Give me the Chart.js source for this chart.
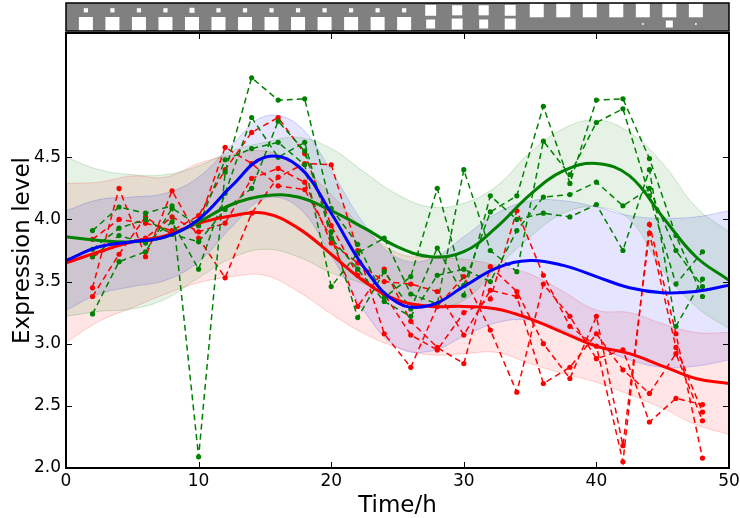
<!DOCTYPE html>
<html>
<head>
<meta charset="utf-8">
<script src="https://cdn.jsdelivr.net/npm/chart.js@4.4.1/dist/chart.umd.min.js"></script>
<style>
  html, body { margin: 0; padding: 0; background: #fff; }
  #wrap { width: 740px; height: 518px; }
</style>
</head>
<body>
<div id="wrap"><canvas id="myChart" width="740" height="518"></canvas></div>
<script>
"use strict";

// smooth fits, sampled every 2.5 h
const fitTimes = [0, 2.5, 5, 7.5, 10, 12.5, 15, 17.5, 20, 22.5, 25, 27.5, 30, 32.5, 35, 37.5, 40, 42.5, 45, 47.5, 50];
const blueFit  = [3.67, 3.78, 3.82, 3.86, 4.00, 4.27, 4.50, 4.43, 4.05, 3.61, 3.33, 3.31, 3.46, 3.61, 3.67, 3.63, 3.54, 3.45, 3.41, 3.42, 3.47];
const greenFit = [3.86, 3.83, 3.82, 3.86, 3.98, 4.12, 4.19, 4.18, 4.07, 3.93, 3.78, 3.70, 3.74, 3.94, 4.20, 4.39, 4.45, 4.35, 4.02, 3.70, 3.51];
const redFit   = [3.65, 3.74, 3.82, 3.87, 3.97, 4.03, 4.05, 3.93, 3.72, 3.50, 3.35, 3.30, 3.30, 3.28, 3.20, 3.09, 2.98, 2.92, 2.82, 2.72, 2.68];

// confidence bands
const blueUpper  = [4.07, 4.16, 4.18, 4.21, 4.34, 4.60, 4.83, 4.76, 4.39, 3.96, 3.69, 3.68, 3.86, 4.05, 4.15, 4.15, 4.10, 4.03, 4.01, 4.02, 4.07];
const blueLower  = [3.27, 3.40, 3.46, 3.51, 3.66, 3.94, 4.17, 4.10, 3.71, 3.26, 2.97, 2.94, 3.06, 3.17, 3.19, 3.11, 2.98, 2.87, 2.81, 2.82, 2.87];
const greenUpper = [4.50, 4.40, 4.36, 4.36, 4.43, 4.55, 4.62, 4.66, 4.57, 4.38, 4.20, 4.10, 4.13, 4.27, 4.54, 4.73, 4.80, 4.70, 4.45, 4.10, 3.90];
const greenLower = [3.22, 3.26, 3.28, 3.36, 3.53, 3.69, 3.76, 3.70, 3.57, 3.48, 3.36, 3.30, 3.35, 3.61, 3.86, 4.05, 4.10, 4.00, 3.59, 3.30, 3.12];
const redUpper   = [4.29, 4.30, 4.35, 4.34, 4.45, 4.52, 4.55, 4.44, 4.20, 3.92, 3.73, 3.69, 3.68, 3.63, 3.56, 3.42, 3.27, 3.25, 3.16, 3.09, 3.09];
const redLower   = [3.01, 3.18, 3.29, 3.40, 3.49, 3.54, 3.55, 3.42, 3.24, 3.08, 2.97, 2.91, 2.92, 2.93, 2.84, 2.76, 2.69, 2.59, 2.48, 2.35, 2.27];

// measured replicates, every 2 h
const sampleTimes = [2, 4, 6, 8, 10, 12, 14, 16, 18, 20, 22, 24, 26, 28, 30, 32, 34, 36, 38, 40, 42, 44, 46, 48];
const greenReps = [
  [3.91, 4.10, 4.05, 4.11, 2.09, 4.38, 5.14, 4.96, 4.97, 4.09, 3.80, 3.37, 3.54, 4.25, 3.47, 4.06, 4.19, 4.91, 4.29, 4.96, 4.97, 4.49, 3.87, 3.38],
  [3.24, 3.66, 3.74, 4.09, 3.95, 4.48, 4.57, 4.62, 4.44, 3.46, 3.73, 3.85, 3.40, 3.32, 4.40, 3.75, 3.58, 4.63, 4.36, 4.78, 4.89, 4.19, 3.48, 3.74],
  [3.76, 3.93, 4.00, 3.88, 3.82, 4.08, 4.25, 4.79, 4.55, 3.90, 3.21, 3.58, 3.28, 3.77, 3.39, 4.19, 4.00, 4.05, 4.02, 4.12, 3.75, 4.40, 3.14, 3.52],
  [3.70, 3.87, 3.81, 3.98, 3.60, 4.21, 4.82, 4.50, 4.62, 3.85, 3.60, 3.34, 3.22, 3.55, 3.60, 3.50, 3.91, 4.18, 4.20, 4.30, 4.11, 4.25, 3.75, 3.46]
];
const redReps = [
  [3.84, 4.00, 3.97, 3.91, 4.03, 4.40, 4.70, 4.82, 4.53, 3.95, 3.55, 3.40, 3.07, 2.95, 3.25, 3.36, 4.07, 3.55, 3.14, 2.98, 2.05, 3.96, 3.08, 2.08],
  [3.45, 4.25, 3.70, 4.23, 3.85, 3.53, 4.05, 4.34, 4.45, 4.44, 3.75, 3.08, 2.81, 3.30, 3.54, 3.11, 2.61, 3.48, 3.22, 2.88, 2.95, 2.37, 2.56, 2.51],
  [3.38, 3.72, 4.02, 3.88, 3.97, 4.58, 4.45, 4.27, 4.24, 3.85, 3.30, 3.60, 3.18, 2.97, 2.84, 3.62, 3.42, 3.00, 2.72, 3.22, 2.18, 3.89, 2.97, 2.45],
  [3.70, 3.80, 3.85, 4.02, 3.90, 3.97, 4.33, 4.41, 4.30, 3.81, 3.65, 3.50, 3.48, 3.42, 3.07, 3.43, 3.38, 2.68, 2.81, 3.08, 2.79, 2.60, 2.92, 2.38]
];

// light schedule strip on top (relative square sizes per 2 h slot)
const stripTimes = [1.5, 3.5, 5.5, 7.5, 9.5, 11.5, 13.5, 15.5, 17.5, 19.5, 21.5, 23.5, 25.5, 27.5, 29.5, 31.5, 33.5, 35.5, 37.5, 39.5, 41.5, 43.5, 45.5, 47.5];
const stripTop    = [0.3, 0.3, 0.3, 0.3, 0.36, 0.3, 0.3, 0.3, 0.3, 0.3, 0.3, 0.3, 0.3, 0.78, 0.72, 0.72, 0.78, 1, 1, 1, 1, 1, 1, 1];
const stripBottom = [1, 1, 1, 1, 1, 1, 1, 1, 1, 1, 1, 1, 1, 0.64, 0.78, 0.64, 0.78, 0, 0, 0, 0, 0.12, 0.5, 0.12];

const xTicks = [0, 10, 20, 30, 40, 50];
const yTicks = [2.0, 2.5, 3.0, 3.5, 4.0, 4.5];

const FONT = "'DejaVu Sans', sans-serif";

const toPoints = (times, values) => times.map((t, i) => ({ x: t, y: values[i] }));

function bandPair(lower, upper, rgb) {
  const base = {
    type: "line",
    pointRadius: 0,
    borderWidth: 1,
    borderColor: `rgba(${rgb}, 0.18)`,
    tension: 0.4,
    order: 3
  };
  return [
    { ...base, data: toPoints(fitTimes, lower), fill: false },
    { ...base, data: toPoints(fitTimes, upper), fill: "-1", backgroundColor: `rgba(${rgb}, 0.1)` }
  ];
}

function repLine(values, color) {
  return {
    type: "line",
    data: toPoints(sampleTimes, values),
    borderColor: color,
    backgroundColor: color,
    borderWidth: 1.5,
    borderDash: [6, 4],
    pointRadius: 2.6,
    pointBorderWidth: 0,
    pointBackgroundColor: color,
    tension: 0,
    fill: false,
    order: 2
  };
}

function fitLine(values, color) {
  return {
    type: "line",
    data: toPoints(fitTimes, values),
    borderColor: color,
    borderWidth: 3,
    pointRadius: 0,
    tension: 0.4,
    fill: false,
    order: 1
  };
}

// frame, inward ticks and the light strip above the plot
const framePlugin = {
  id: "framePlugin",
  afterDraw(chart) {
    const { ctx, chartArea: a, scales: { x, y } } = chart;
    ctx.save();
    ctx.strokeStyle = "#000";
    ctx.lineWidth = 1;
    x.ticks.forEach(t => {
      const px = Math.round(x.getPixelForValue(t.value)) + 0.5;
      ctx.beginPath();
      ctx.moveTo(px, a.bottom); ctx.lineTo(px, a.bottom - 6);
      ctx.moveTo(px, a.top); ctx.lineTo(px, a.top + 6);
      ctx.stroke();
    });
    y.ticks.forEach(t => {
      const py = Math.round(y.getPixelForValue(t.value)) + 0.5;
      ctx.beginPath();
      ctx.moveTo(a.left, py); ctx.lineTo(a.left + 6, py);
      ctx.moveTo(a.right, py); ctx.lineTo(a.right - 6, py);
      ctx.stroke();
    });
    ctx.lineWidth = 2;
    ctx.strokeRect(a.left, a.top, a.right - a.left, a.bottom - a.top);

    // strip
    const sTop = a.top - 30, sBot = a.top - 2;
    ctx.fillStyle = "#808080";
    ctx.fillRect(a.left, sTop, a.right - a.left, sBot - sTop);
    ctx.fillStyle = "#fff";
    const full = 14;
    stripTimes.forEach((t, i) => {
      const cx = x.getPixelForValue(t);
      const s1 = stripTop[i] * full;
      if (s1 > 0) ctx.fillRect(cx - s1 / 2, sTop + 7.3 - s1 / 2, s1, s1);
      const s2 = stripBottom[i] * full;
      if (s2 > 0) ctx.fillRect(cx - s2 / 2, sBot - 7 - s2 / 2, s2, s2);
    });
    ctx.lineWidth = 1.5;
    ctx.strokeRect(a.left, sTop, a.right - a.left, sBot - sTop);
    ctx.restore();
  }
};

const datasets = [
  fitLine(blueFit, "#0000ff"),
  fitLine(greenFit, "#008000"),
  fitLine(redFit, "#ff0000"),
  ...greenReps.map(r => repLine(r, "#008000")),
  ...redReps.map(r => repLine(r, "#ff0000")),
  ...bandPair(greenLower, greenUpper, "0, 128, 0"),
  ...bandPair(blueLower, blueUpper, "0, 0, 255"),
  ...bandPair(redLower, redUpper, "255, 0, 0")
];

const ctx = document.getElementById("myChart").getContext("2d");

new Chart(ctx, {
  type: "line",
  data: { datasets: datasets },
  options: {
    responsive: false,
    animation: false,
    devicePixelRatio: 1,
    layout: { padding: { top: 33, right: 11, left: 0, bottom: 0 } },
    plugins: {
      legend: { display: false },
      tooltip: { enabled: false }
    },
    scales: {
      x: {
        type: "linear",
        min: 0,
        max: 50,
        afterBuildTicks: scale => { scale.ticks = xTicks.map(v => ({ value: v })); },
        afterFit: scale => {
          scale.height = 50;
          scale.paddingLeft = 0;
          scale.paddingRight = 0;
        },
        grid: { display: false, drawTicks: false },
        border: { display: false },
        ticks: {
          color: "#000",
          font: { family: FONT, size: 17 },
          padding: 3,
          maxRotation: 0
        },
        title: {
          display: true,
          text: "Time/h",
          color: "#000",
          font: { family: FONT, size: 23, lineHeight: 1 },
          padding: { top: 0, bottom: 0 }
        }
      },
      y: {
        type: "linear",
        min: 2.0,
        max: 5.5,
        afterBuildTicks: scale => { scale.ticks = yTicks.map(v => ({ value: v })); },
        afterFit: scale => { scale.width = 66; },
        grid: { display: false, drawTicks: false },
        border: { display: false },
        ticks: {
          color: "#000",
          font: { family: FONT, size: 17 },
          padding: 5,
          callback: v => Number(v).toFixed(1)
        },
        title: {
          display: true,
          text: "Expression level",
          color: "#000",
          font: { family: FONT, size: 23, lineHeight: 1 },
          padding: { top: 12, bottom: 0 }
        }
      }
    }
  },
  plugins: [framePlugin]
});
</script>
</body>
</html>
